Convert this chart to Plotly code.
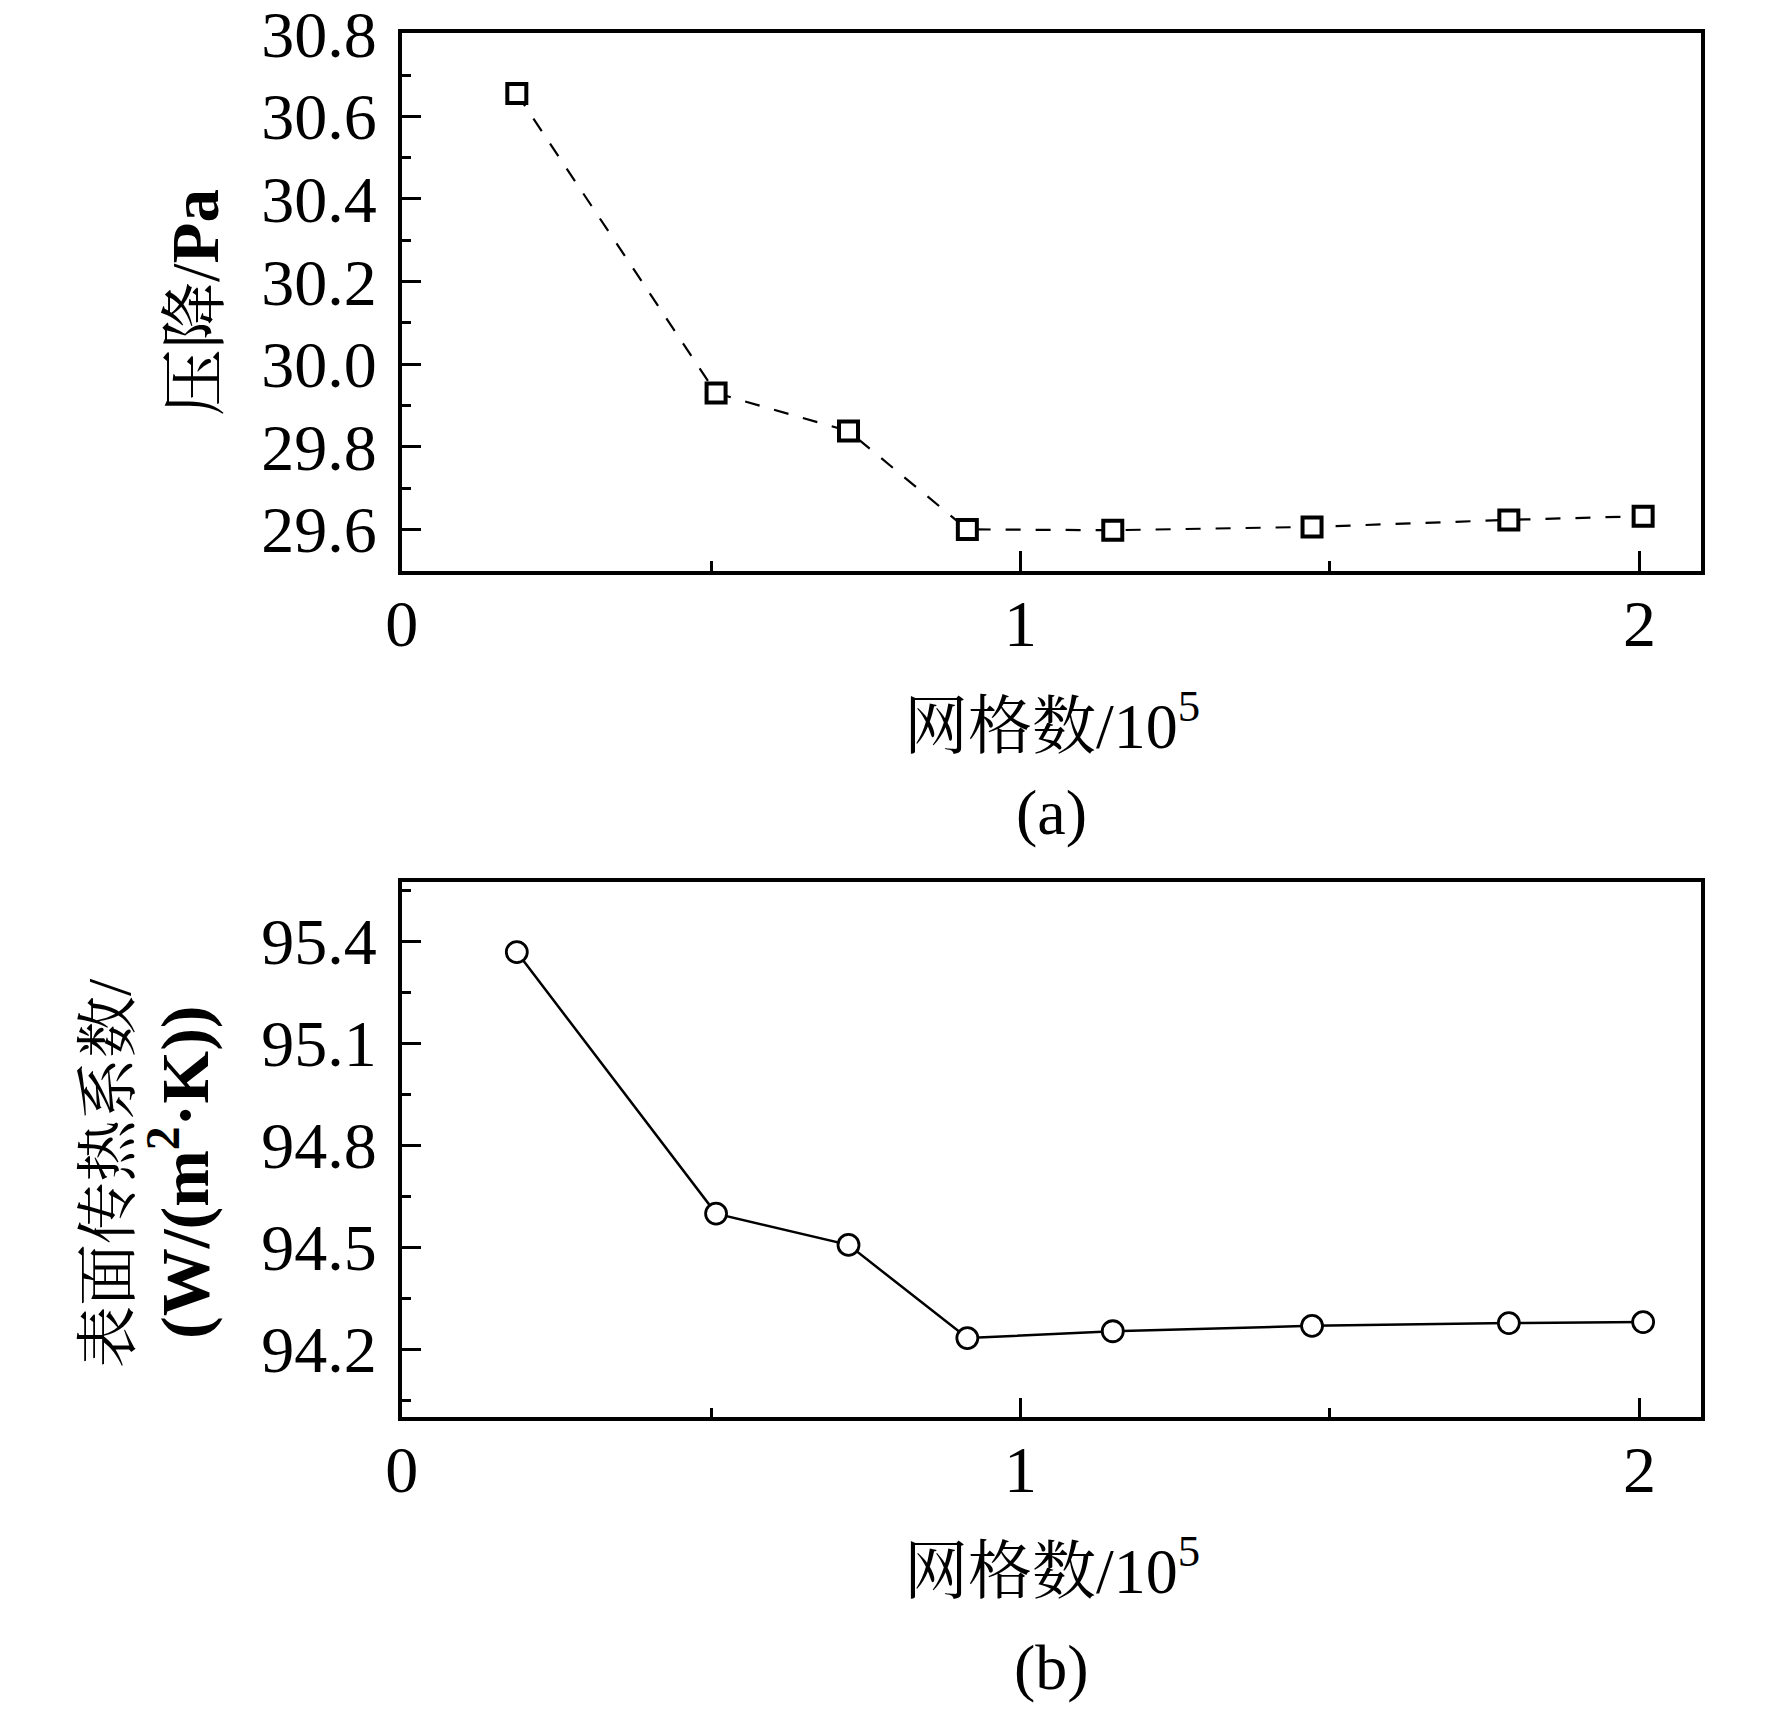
import plotly.graph_objects as go

# ---- data ----
mesh_count = [0.186, 0.508, 0.722, 0.914, 1.149, 1.471, 1.789, 2.006]      # 网格数 / 1e5
pressure_drop = [30.655, 29.930, 29.838, 29.600, 29.598, 29.606, 29.623, 29.632]  # Pa
htc = [95.368, 94.599, 94.507, 94.233, 94.253, 94.269, 94.277, 94.280]      # W/(m2 K)

x_ticks = [0, 1, 2]
y1_ticks = [29.6, 29.8, 30.0, 30.2, 30.4, 30.6, 30.8]
y2_ticks = [94.2, 94.5, 94.8, 95.1, 95.4]

# page is 1772x1712; the html body adds an 8 px margin
PAGE_W, PAGE_H = 1772, 1712
OFF = 8
W, H = PAGE_W - 2 * OFF, PAGE_H - 2 * OFF
FONT = "Liberation Serif, Times New Roman, Noto Serif CJK SC, Noto Sans CJK SC, serif"


def px(x):
    return (x - OFF) / W


def py(y):
    return 1 - (y - OFF) / H


fig = go.Figure()
fig.add_trace(go.Scatter(
    x=mesh_count, y=pressure_drop, mode="lines+markers",
    line=dict(color="black", width=2.2, dash="15px,15px"),
    marker=dict(symbol="square", size=19, color="white",
                line=dict(color="black", width=4)),
    xaxis="x", yaxis="y", showlegend=False))
fig.add_trace(go.Scatter(
    x=mesh_count, y=htc, mode="lines+markers",
    line=dict(color="black", width=2.5),
    marker=dict(symbol="circle", size=21, color="white",
                line=dict(color="black", width=2.8)),
    xaxis="x2", yaxis="y2", showlegend=False))

xdom = [px(401.7), px(1701.3)]
y1dom = [py(570.7), py(33.3)]
y2dom = [py(1417.3), py(881.7)]

common_axis = dict(
    showline=True, linecolor="black", linewidth=3.5, mirror=True,
    showgrid=False, zeroline=False, automargin=False,
    ticks="inside", ticklen=20, tickwidth=3, tickcolor="black",
    tickfont=dict(family=FONT, size=66, color="black"),
    ticklabeloverflow="allow",
)
xcommon = dict(common_axis, range=[0, 2.1], tickvals=x_ticks,
               ticktext=[str(v) for v in x_ticks],
               minor=dict(dtick=0.5, tick0=0, ticks="inside", ticklen=10,
                          tickwidth=3, tickcolor="black"),
               ticklabelstandoff=-8)

fig.update_layout(
    width=W, height=H,
    margin=dict(l=0, r=0, t=0, b=0, autoexpand=False),
    paper_bgcolor="white", plot_bgcolor="white",
    font=dict(family=FONT, color="black"),
    xaxis=dict(xcommon, domain=xdom, anchor="y"),
    yaxis=dict(common_axis, domain=y1dom, anchor="x",
               range=[29.5, 30.801], tickvals=y1_ticks,
               ticktext=[f"{v:.1f}" for v in y1_ticks],
               minor=dict(dtick=0.1, tick0=29.5, ticks="inside", ticklen=10,
                          tickwidth=3, tickcolor="black"),
               ticklabelstandoff=8),
    xaxis2=dict(xcommon, domain=xdom, anchor="y2"),
    yaxis2=dict(common_axis, domain=y2dom, anchor="x2",
                range=[94.0, 95.575], tickvals=y2_ticks,
                ticktext=[f"{v:.1f}" for v in y2_ticks],
                minor=dict(dtick=0.15, tick0=94.05, ticks="inside", ticklen=10,
                           tickwidth=3, tickcolor="black"),
                ticklabelstandoff=8),
)

cx = (xdom[0] + xdom[1]) / 2
ann = [
    dict(text="网格数/10<sup>5</sup>", x=cx, y=py(722), size=64, angle=0),
    dict(text="(a)", x=cx, y=py(812), size=64, angle=0),
    dict(text="网格数/10<sup>5</sup>", x=cx, y=py(1566), size=64, angle=0),
    dict(text="(b)", x=cx, y=py(1667), size=64, angle=0),
    dict(text="压降/<b>Pa</b>", x=px(195), y=py(303), size=67, angle=-90),
    dict(text="表面传热系数/", x=px(109), y=py(1173), size=62, angle=-90),
    dict(text="<b>(W/(m<sup>2</sup>·K))</b>", x=px(180), y=py(1173), size=68, angle=-90),
]
for a in ann:
    fig.add_annotation(text=a["text"], x=a["x"], y=a["y"], xref="paper", yref="paper",
                       xanchor="center", yanchor="middle", showarrow=False,
                       textangle=a["angle"],
                       font=dict(family=FONT, size=a["size"], color="black"))

fig.write_html("out.html")
